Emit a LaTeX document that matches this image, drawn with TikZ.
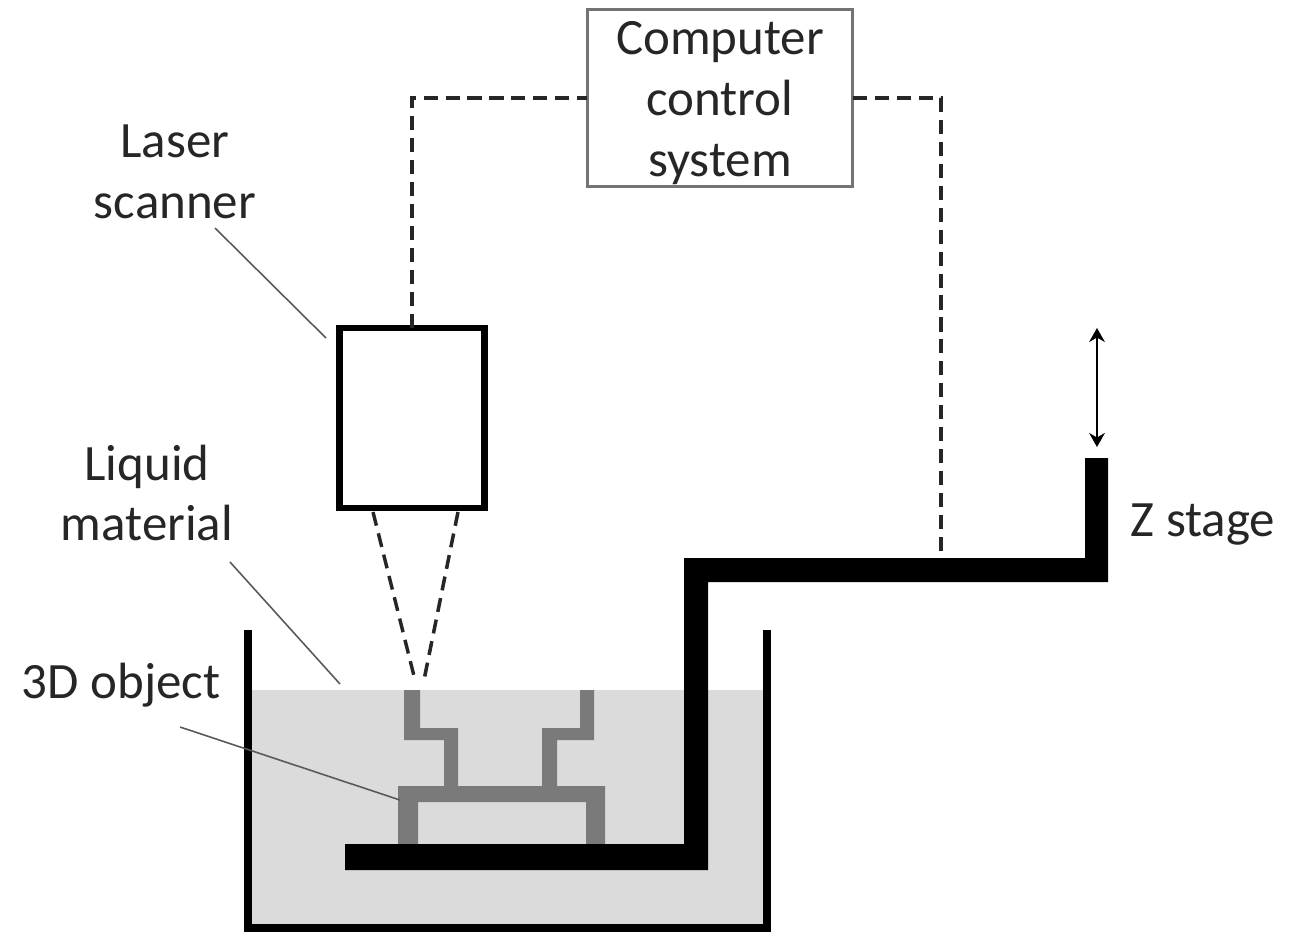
\documentclass[tikz,border=0pt]{standalone}
\usepackage{fontspec}
\setmainfont{Carlito}
\usetikzlibrary{positioning}
\usetikzlibrary{arrows.meta}
\tikzset{>={Stealth[length=8pt, width=9pt]}}
\definecolor{liquidgray}{gray}{.86}
\definecolor{objectgray}{gray}{.48}
\definecolor{boxgray}{gray}{.45}
\tikzset{lbl/.style={inner sep=0pt, outer sep=0pt, align=center, font=\fontsize{29}{34.6}\selectfont, text=black!85}}
\tikzset{ctrl/.style={line width=2pt, black!85, dash pattern=on 8pt off 4.5pt}}
\tikzset{lead/.style={line width=.9pt, black!65}}

\begin{document}
\begin{tikzpicture}[x=.02cm, y=-.02cm]
\useasboundingbox (0, 0) rectangle (1296, 934);
\fill[liquidgray] (250, 690) rectangle (764, 926);
\draw[line width=4.2pt] (248, 630) -- (248, 928) -- (767, 928) -- (767, 630);
\fill[objectgray] (404, 690) -- (420, 690) -- (420, 728) -- (458, 728) -- (458, 786) -- (542, 786) -- (542, 728) -- (580, 728) -- (580, 690) -- (594, 690) -- (594, 740) -- (557, 740) -- (557, 786) -- (605, 786) -- (605, 846) -- (586, 846) -- (586, 802) -- (418, 802) -- (418, 846) -- (398, 846) -- (398, 786) -- (444, 786) -- (444, 740) -- (404, 740) -- cycle;
\fill (345, 844) -- (684, 844) -- (684, 558) -- (1085, 558) -- (1085, 458) -- (1108, 458) -- (1108, 582) -- (708, 582) -- (708, 870) -- (345, 870) -- cycle;
\node[draw=black, line width=3.5pt, inner sep=0pt, outer sep=0pt, minimum width=2.9cm, minimum height=3.6cm] (scanner) at (412, 418) {};
\node[draw=boxgray, line width=1.7pt, inner sep=0pt, outer sep=0pt, minimum width=5.32cm, minimum height=3.56cm] (computer) at (720, 98) {};
\node[lbl] (computerlabel) at (720, 103) {Computer\\control\\system};
\node[lbl] (laserlabel) at (175, 172) {Laser\\scanner};
\node[lbl] (liquidlabel) at (147, 493) {Liquid\\material};
\node[lbl] (objectlabel) at (121, 685) {3D object};
\node[lbl] (zlabel) at (1203, 525) {Z stage};
\coordinate (scannerend) at (326, 338);
\coordinate (liquidend) at (340, 684);
\coordinate (objectend) at (400, 800);
\coordinate (armjoint) at (941, 558);
\coordinate (beamleft) at (373, 512);
\coordinate (beamright) at (458, 512);
\coordinate (focusleft) at (415, 680);
\coordinate (focusright) at (424, 680);
\coordinate (arrowtop) at (1097, 328);
\coordinate (arrowbottom) at (1097, 447);
\draw[ctrl] (scanner.north) |- (computer.west);
\draw[ctrl] (computer.east) -| (armjoint);
\draw[ctrl] (beamleft) -- (focusleft);
\draw[ctrl] (beamright) -- (focusright);
\draw[lead] (215, 228) -- (scannerend);
\draw[lead] (230, 562) -- (liquidend);
\draw[lead] (180, 727) -- (objectend);
\draw[<->, line width=.9pt] (arrowtop) -- (arrowbottom);
\end{tikzpicture}
\end{document}
